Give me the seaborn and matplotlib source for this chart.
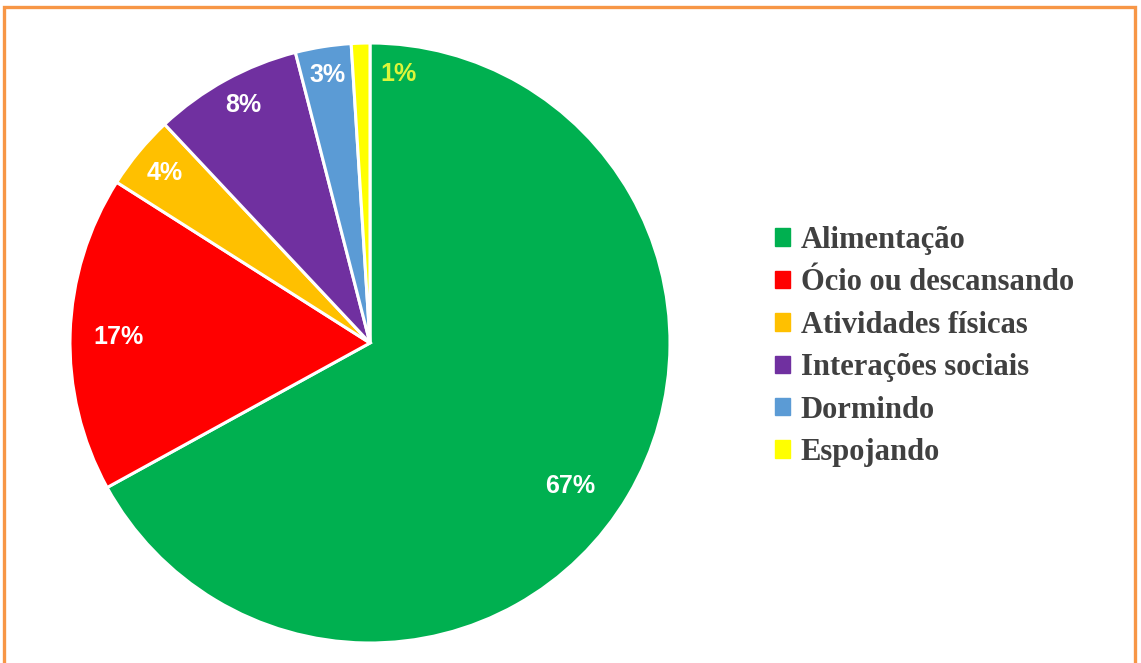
import matplotlib
matplotlib.use("Agg")
import matplotlib.pyplot as plt
import matplotlib.patches as mpatches
import numpy as np
import seaborn as sns

sns.set_theme(style="white")

# DATA

categorias = ["Alimentação", "Ócio ou descansando", "Atividades físicas",
              "Interações sociais", "Dormindo", "Espojando"]
percentual = [67, 17, 4, 8, 3, 1]
cores = ["#00B050", "#FF0000", "#FFC000", "#7030A0", "#5B9BD5", "#FFFF00"]
cor_rotulo = ["white", "white", "white", "white", "white", "#DDF53A"]

# label placement (distance from centre, angle shift in degrees)
dist_rotulo = [0.82, 0.84, 0.89, 0.9, 0.905, 0.9]
desloc_rotulo = [-5, 0.5, 0, -0.7, 0, -7.8]


fig = plt.figure(figsize=(11.41, 6.63), dpi=100)

ax = fig.add_axes([70/1141, 20/663, 600/1141, 600/663])

wedges, texts, autotexts = ax.pie(
    percentual,
    colors=cores,
    startangle=90,
    counterclock=False,
    autopct="%1.0f%%",
    wedgeprops=dict(edgecolor="white", linewidth=2.2),
    textprops=dict(fontfamily="Liberation Sans", fontweight="bold", fontsize=18),
)

for w, t, c, d, o in zip(wedges, autotexts, cor_rotulo, dist_rotulo, desloc_rotulo):
    ang = np.deg2rad((w.theta1 + w.theta2) / 2 + o)
    t.set_position((d*np.cos(ang), d*np.sin(ang)))
    t.set_color(c)

ax.set_xlim(-1, 1)
ax.set_ylim(-1, 1)
ax.set_aspect("equal")
ax.axis("off")

handles = [mpatches.Patch(color=c, label=l) for c, l in zip(cores, categorias)]

leg = fig.legend(
    handles=handles,
    loc="center left",
    bbox_to_anchor=(0.655, 0.4775),
    frameon=False,
    handlelength=0.5,
    handleheight=0.5,
    handletextpad=0.35,
    labelspacing=0.44,
    prop=dict(family="Liberation Serif", weight="bold", size=22),
)
for t in leg.get_texts():
    t.set_color("#404040")

# orange frame
frame = mpatches.Rectangle(
    (4/1141, -0.05), 1131/1141, 1.05 - 7/663,
    transform=fig.transFigure, fill=False,
    edgecolor="#F79646", linewidth=2.4,
)
fig.patches.append(frame)

plt.savefig("out.png", dpi=100)
plt.close()
